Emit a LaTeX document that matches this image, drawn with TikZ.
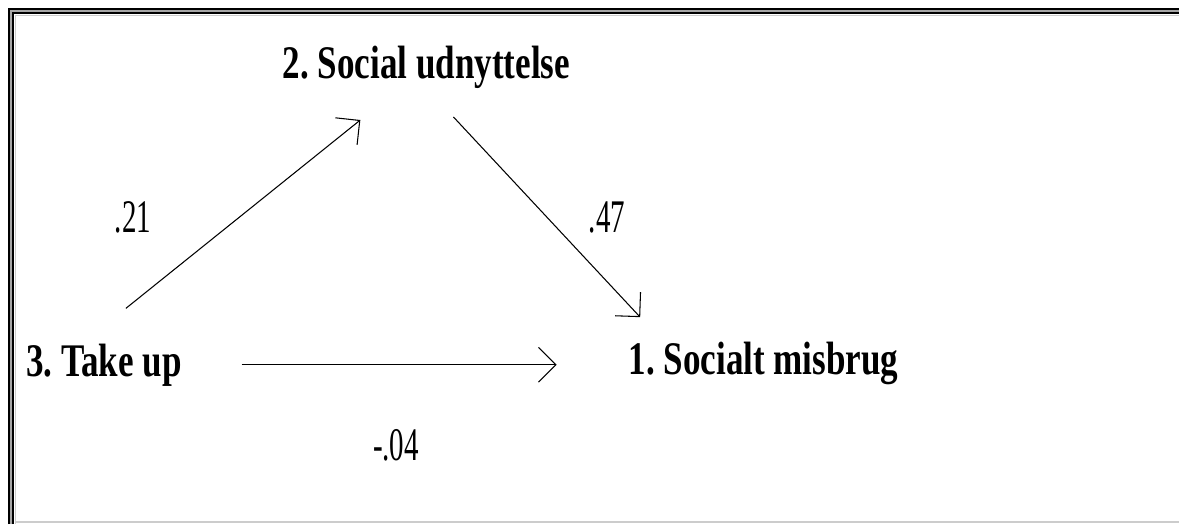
\documentclass[tikz,border=0pt]{standalone}
\usepackage{fontspec}
\newfontfamily\pathfont[FakeStretch=0.75]{Liberation Serif}
\newfontfamily\coeffont[FakeStretch=0.62]{Liberation Serif}
\usetikzlibrary{arrows.meta}
\frenchspacing

\begin{document}
\begin{tikzpicture}[x=0.02cm, y=-0.02cm, var/.style={font=\pathfont\fontsize{26.6}{30}\selectfont\bfseries, inner sep=0pt, outer sep=0pt, anchor=base}, coef/.style={font=\coeffont\fontsize{26.6}{30}\selectfont, inner sep=0pt, anchor=base}, arrow/.style={-{Straight Barb[angle=90:14pt]}, line width=0.6pt}]
\useasboundingbox (0,0) rectangle (1179,524);
% frame
\draw[line width=1.4pt] (8.75,524) -- (8.75,8.75) -- (1179,8.75);
\draw[line width=0.85pt, gray!70] (11,524) -- (11,11) -- (1179,11);
\draw[line width=1.4pt] (13.25,524) -- (13.25,13.25) -- (1179,13.25);
\draw[line width=0.6pt, gray!40] (15.5,524) -- (15.5,15.5) -- (1179,15.5);
\draw[line width=0.6pt, gray!40] (15.5,522) -- (1179,522);
% variables
\node[var] (social) at (426.5,78) {2. Social udnyttelse};
\node[var] (misbrug) at (763.5,374) {1. Socialt misbrug};
\node[var] (take) at (104,376) {3. Take up};
% paths
\draw[arrow, shorten <=32pt, shorten >=29pt] (take.136) -- (social);
\draw[arrow, shorten <=22.5pt, shorten >=19pt] (social.south) -- (misbrug.168);
\draw[arrow, shorten <=34pt, shorten >=41pt] (take.east) -- (take.east -| misbrug.west);
\node[coef] (c21) at (133,232) {.21};
\node[coef] (c47) at (607,232) {.47};
\node[coef] (c04) at (396,460) {-.04};
\end{tikzpicture}
\end{document}
